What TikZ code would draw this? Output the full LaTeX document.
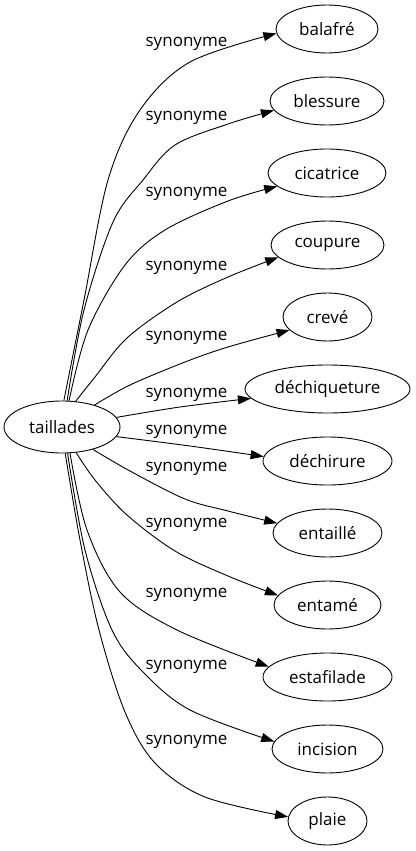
\documentclass[tikz,border=0pt]{standalone}
\usepackage{fontspec}
\setmainfont{Open Sans}
\usetikzlibrary{shapes.geometric,arrows.meta}
\tikzset{
  every node/.style={font=\fontsize{17}{20}\selectfont},
  src/.style={ellipse, draw, line width=0.9pt, minimum width=116pt, minimum height=52pt, inner sep=1pt},
  tgt/.style={ellipse, draw, line width=0.9pt, minimum height=48pt, inner sep=1pt},
  lbl/.style={inner sep=0pt},
  edge/.style={line width=0.9pt, -{Triangle[length=13pt,width=9pt]}},
  pl/.style={smooth, tension=0.55}
}
\begin{document}
\begin{tikzpicture}[x=1pt,y=-1pt]
\path[use as bounding box] (0,0) rectangle (415,851);
\node[src] (t) at (62,427) {taillades};
\node[tgt, minimum width=102pt] (n1) at (327,29) {balafré};
\node[tgt, minimum width=114pt] (n2) at (327,101) {blessure};
\node[tgt, minimum width=118pt] (n3) at (327,173) {cicatrice};
\node[tgt, minimum width=113pt] (n4) at (327.5,245) {coupure};
\node[tgt, minimum width=89pt] (n5) at (327.5,317) {crevé};
\node[tgt, minimum width=165pt] (n6) at (327.5,389) {déchiqueture};
\node[tgt, minimum width=129pt] (n7) at (327.5,461) {déchirure};
\node[tgt, minimum width=109pt] (n8) at (327.5,533) {entaillé};
\node[tgt, minimum width=107pt] (n9) at (327.5,605) {entamé};
\node[tgt, minimum width=129pt] (n10) at (327.5,677) {estafilade};
\node[tgt, minimum width=111pt] (n11) at (327.5,749) {incision};
\node[tgt, minimum width=79pt] (n12) at (327.5,821) {plaie};
\node[lbl] (l1) at (186.5,44) {synonyme};
\node[lbl] (l2) at (186.5,118) {synonyme};
\node[lbl] (l3) at (186.5,194) {synonyme};
\node[lbl] (l4) at (186.5,268) {synonyme};
\node[lbl] (l5) at (186.5,338) {synonyme};
\node[lbl] (l6) at (186.5,395) {synonyme};
\node[lbl] (l7) at (186.5,432) {synonyme};
\node[lbl] (l8) at (186.5,469) {synonyme};
\node[lbl] (l9) at (186.5,525) {synonyme};
\node[lbl] (l10) at (186.5,595) {synonyme};
\node[lbl] (l11) at (186.5,667) {synonyme};
\node[lbl] (l12) at (186.5,742) {synonyme};
\draw[edge] plot[pl] coordinates {(t.86) (84,300) (108,180) (140,110) (190,62) (n1.185)};
\draw[edge] plot[pl] coordinates {(t.79) (84,310) (113,222) (143,180) (175,145) (228,124) (n2.190)};
\draw[edge] plot[pl] coordinates {(t.75) (88,330) (125,265) (165,230) (228,201) (n3.195)};
\draw[edge] plot[pl] coordinates {(t.62) (95,377) (127,338) (177,302) (228,277) (n4.194)};
\draw[edge] plot[pl] coordinates {(t.34) (130,385) (185,362) (228,347) (n5.199)};
\draw[edge] plot[pl] coordinates {(t.10) (180,407) (n6.187)};
\draw[edge] plot[pl] coordinates {(t.-10) (190,446) (n7.176)};
\draw[edge] plot[pl] coordinates {(t.-36) (130,471) (185,499) (228,511) (n8.169)};
\draw[edge] plot[pl] coordinates {(t.-61) (95,480) (127,515) (175,551) (228,576) (n9.169)};
\draw[edge] plot[pl] coordinates {(t.-73) (87,530) (120,592) (177,630) (n10.170)};
\draw[edge] plot[pl] coordinates {(t.-78) (85,550) (112,630) (143,672) (190,710) (n11.172)};
\draw[edge] plot[pl] coordinates {(t.-83) (80,540) (99,630) (125,712) (155,763) (205,797) (n12.174)};
\end{tikzpicture}
\end{document}
